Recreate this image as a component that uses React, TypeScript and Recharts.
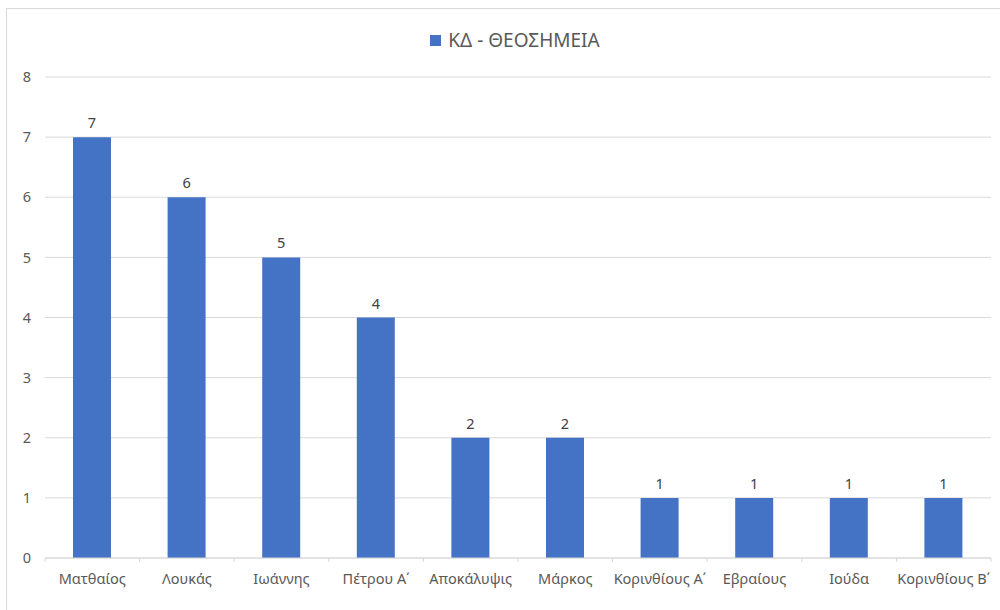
import { BarChart, Bar, CartesianGrid, XAxis, YAxis, Legend, LabelList } from 'recharts';

const books = [
  'Ματθαίος',
  'Λουκάς',
  'Ιωάννης',
  'Πέτρου Α΄',
  'Αποκάλυψις',
  'Μάρκος',
  'Κορινθίους Α΄',
  'Εβραίους',
  'Ιούδα',
  'Κορινθίους Β΄',
];
const counts = [7, 6, 5, 4, 2, 2, 1, 1, 1, 1];
const yTicks = [0, 1, 2, 3, 4, 5, 6, 7, 8];
const seriesName = 'ΚΔ - ΘΕΟΣΗΜΕΙΑ';

const data = books.map((book, i) => ({ book, value: counts[i] }));

const FONT = '"Noto Sans", "Open Sans", sans-serif';
const GRID = '#d9d9d9';
const TEXT = '#595959';
const BLUE = '#4472c4';

const CHART_W = 1008;
const CHART_H = 618;
const MARGIN = { top: 68, right: 24, left: 0, bottom: 39 };
const Y_W = 38;
const BAND = (CHART_W - MARGIN.left - MARGIN.right - Y_W) / books.length;

function CategoryTick(props: any) {
  const { x, y, payload, index } = props;
  const axisY = y - 4;
  return (
    <g>
      <line x1={x - BAND / 2} x2={x - BAND / 2} y1={axisY} y2={axisY + 4} stroke={GRID} />
      {index === books.length - 1 && (
        <line x1={x + BAND / 2} x2={x + BAND / 2} y1={axisY} y2={axisY + 4} stroke={GRID} />
      )}
      <text x={x} y={axisY + 26} textAnchor="middle" fill={TEXT} fontSize={14.5} fontFamily={FONT}>
        {payload.value}
      </text>
    </g>
  );
}

function LegendBox() {
  return (
    <div
      style={{
        display: 'flex',
        justifyContent: 'center',
        alignItems: 'center',
        paddingLeft: 8,
        fontFamily: FONT,
        fontSize: 19,
        color: TEXT,
        lineHeight: '24px',
      }}
    >
      <span style={{ display: 'inline-block', width: 11, height: 11, background: BLUE, marginRight: 7 }} />
      <span>{seriesName}</span>
    </div>
  );
}

export default function App() {
  return (
    <div
      style={{
        position: 'absolute',
        left: 6,
        top: 8,
        width: CHART_W,
        height: CHART_H,
        border: `1px solid ${GRID}`,
        background: '#fff',
      }}
    >
      <BarChart width={CHART_W} height={CHART_H} data={data} margin={MARGIN}>
        <CartesianGrid vertical={false} stroke={GRID} />
        <XAxis
          dataKey="book"
          interval={0}
          height={30}
          tickLine={false}
          tickSize={4}
          tickMargin={0}
          axisLine={{ stroke: GRID }}
          tick={<CategoryTick />}
        />
        <YAxis
          width={Y_W}
          domain={[0, 8]}
          ticks={yTicks}
          axisLine={false}
          tickLine={false}
          tickMargin={8}
          tick={{ fill: TEXT, fontSize: 14.5, fontFamily: FONT }}
        />
        <Legend
          verticalAlign="middle"
          align="center"
          wrapperStyle={{ top: 19, left: 0, width: CHART_W }}
          content={<LegendBox />}
        />
        <Bar dataKey="value" name={seriesName} fill={BLUE} barSize={38} isAnimationActive={false}>
          <LabelList dataKey="value" position="top" offset={9} fill="#404040" fontSize={14.5} fontFamily={FONT} />
        </Bar>
      </BarChart>
    </div>
  );
}
